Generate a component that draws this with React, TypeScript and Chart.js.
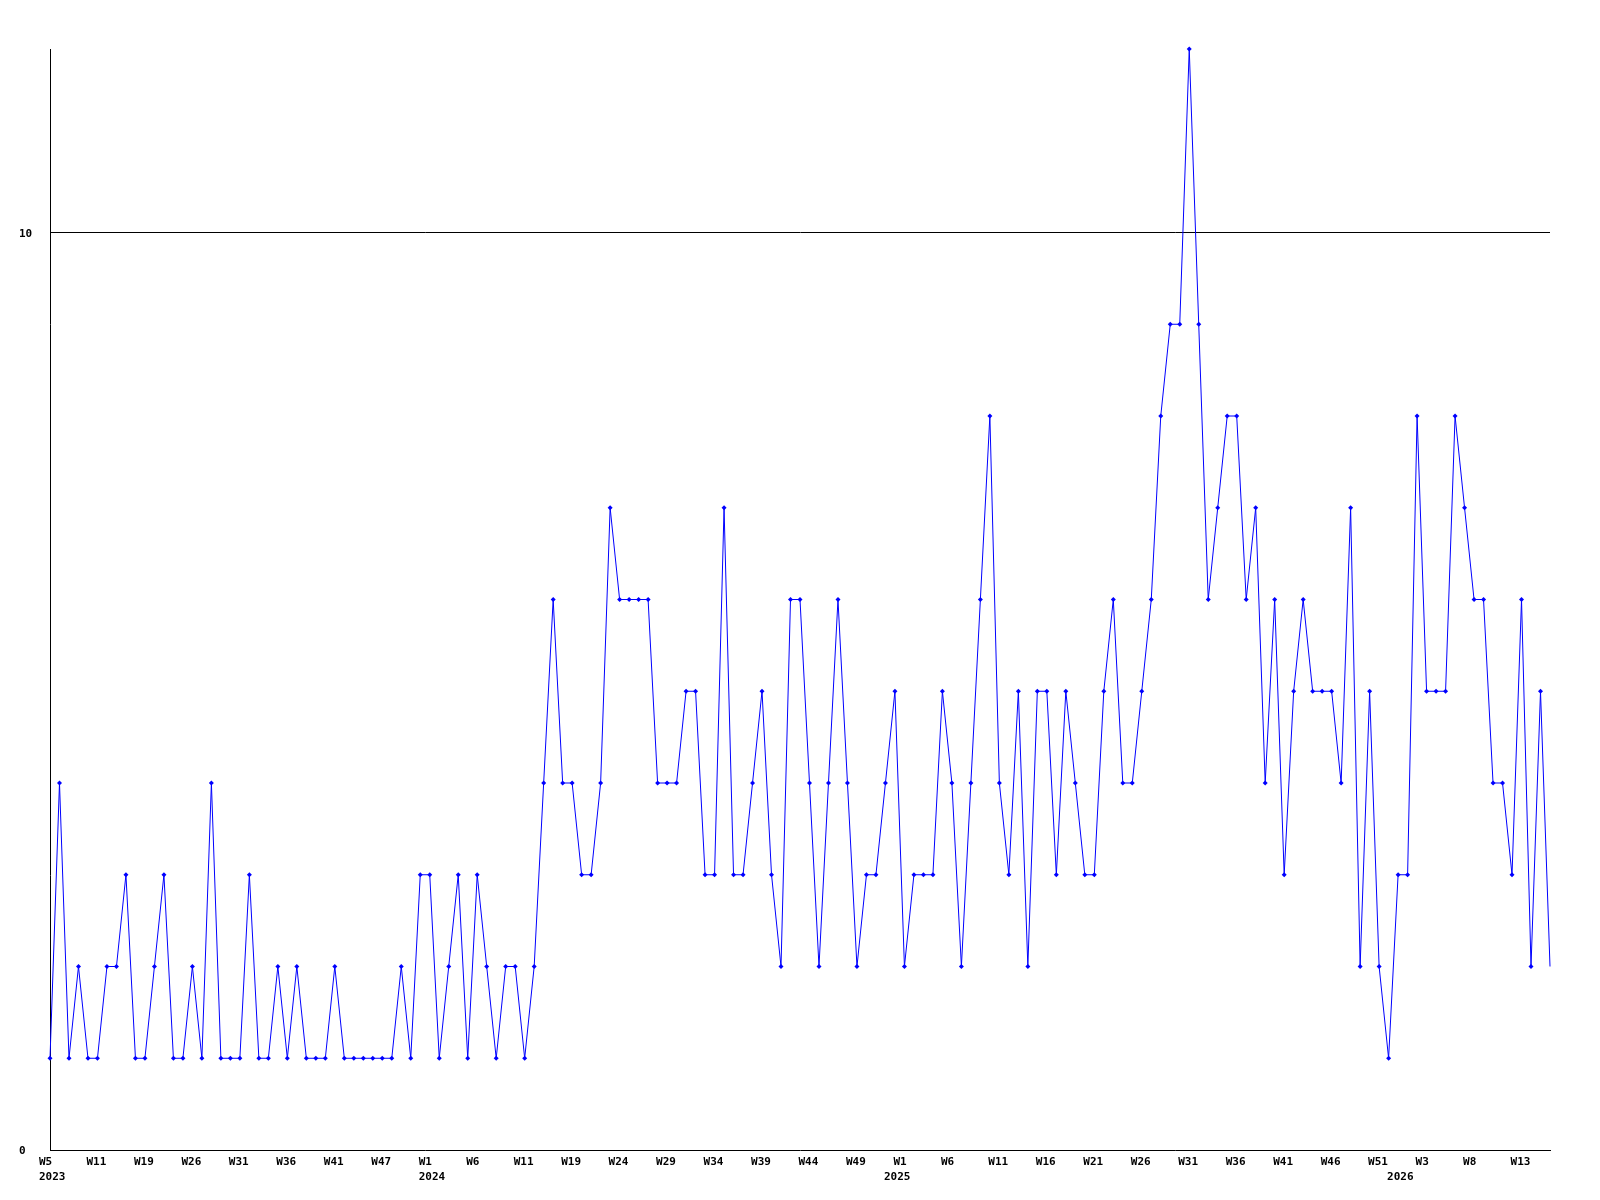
import React, { useEffect, useRef } from "react";
import { Chart, registerables } from "chart.js";

Chart.register(...registerables);

// Weekly values, one array per year (ISO weeks with data)
const values2023 = [1, 4, 1, 2, 1, 1, 2, 2, 3, 1, 1, 2, 3, 1, 1, 2, 1, 4, 1, 1, 1, 3, 1, 1, 2, 1, 2, 1, 1, 1, 2, 1, 1, 1, 1, 1, 1, 2, 1, 3];
const values2024 = [3, 1, 2, 3, 1, 3, 2, 1, 2, 2, 1, 2, 4, 6, 4, 4, 3, 3, 4, 7, 6, 6, 6, 6, 4, 4, 4, 5, 5, 3, 3, 7, 3, 3, 4, 5, 3, 2, 6, 6, 4, 2, 4, 6, 4, 2, 3, 3, 4];
const values2025 = [5, 2, 3, 3, 3, 5, 4, 2, 4, 6, 8, 4, 3, 5, 2, 5, 5, 3, 5, 4, 3, 3, 5, 6, 4, 4, 5, 6, 8, 9, 9, 12, 9, 6, 7, 8, 8, 6, 7, 4, 6, 3, 5, 6, 5, 5, 5, 4, 7, 2, 5, 2, 1];
const values2026 = [3, 3, 8, 5, 5, 5, 8, 7, 6, 6, 4, 4, 3, 6, 2, 5, 2];

// Week tick labels, shown on every 5th point
const weekTicks = ["W5", "W11", "W19", "W26", "W31", "W36", "W41", "W47", "W1", "W6", "W11", "W19", "W24", "W29", "W34", "W39", "W44", "W49", "W1", "W6", "W11", "W16", "W21", "W26", "W31", "W36", "W41", "W46", "W51", "W3", "W8", "W13"];
const tickEvery = 5;
// Year labels and the point index where each year starts
const yearTicks = ["2023", "2024", "2025", "2026"];
const yearTickIndex = [0, 40, 89, 142];

const yTicks = [0, 10];

const FONT = { family: "'DejaVu Sans Mono', monospace", size: 11, weight: "bold" as const, lineHeight: 1.36 };

export default function App() {
  const ref = useRef<HTMLCanvasElement | null>(null);

  useEffect(() => {
    const values = [...values2023, ...values2024, ...values2025, ...values2026];
    const labels = values.map((_, i) => (i % tickEvery === 0 ? weekTicks[i / tickEvery] ?? "" : ""));
    const chart = new Chart(ref.current as HTMLCanvasElement, {
      type: "line",
      data: {
        labels,
        datasets: [
          {
            data: values,
            borderColor: "#0000ff",
            backgroundColor: "#0000ff",
            borderWidth: 1,
            pointStyle: "rectRot",
            pointRadius: (ctx: any) => (ctx.dataIndex === values.length - 1 ? 0 : 2.5),
            pointBorderWidth: 0,
            pointBackgroundColor: "#0000ff",
            tension: 0,
            fill: false,
            clip: false as any,
          },
        ],
      },
      options: {
        responsive: false,
        animation: false,
        events: [],
        layout: { padding: { top: 49, right: 50, bottom: 0, left: 19 } },
        plugins: { legend: { display: false }, tooltip: { enabled: false } },
        scales: {
          x: {
            type: "category",
            offset: false,
            grid: { display: false, drawTicks: false },
            border: { display: true, color: "#000", width: 1 },
            ticks: {
              autoSkip: false,
              maxRotation: 0,
              minRotation: 0,
              align: "start",
              labelOffset: -11,
              padding: 5,
              color: "#000",
              font: FONT,
              callback: (_v: any, index: number) => {
                const w = labels[index];
                const yi = yearTickIndex.indexOf(index);
                if (yi >= 0) return [w, yearTicks[yi]];
                return w;
              },
            },
            afterFit: (s: any) => {
              s.height = 50;
            },
          },
          y: {
            min: 0,
            max: 12,
            grid: {
              drawTicks: false,
              color: (ctx: any) => (ctx.tick && ctx.tick.value === 10 ? "#000" : "rgba(0,0,0,0)"),
              lineWidth: 1,
            },
            border: { display: true, color: "#000", width: 1 },
            afterBuildTicks: (s: any) => {
              s.ticks = yTicks.map((v) => ({ value: v }));
            },
            ticks: {
              crossAlign: "far",
              color: "#000",
              font: FONT,
              padding: 0,
              labelOffset: 1.5,
            },
            afterFit: (s: any) => {
              s.width = 31;
            },
          },
        },
      },
    });
    return () => chart.destroy();
  }, []);

  return (
    <div style={{ position: "absolute", left: 0, top: 0, width: 1600, height: 1200, background: "#fff" }}>
      <canvas ref={ref} width={1600} height={1200} style={{ display: "block", width: 1600, height: 1200 }} />
    </div>
  );
}
